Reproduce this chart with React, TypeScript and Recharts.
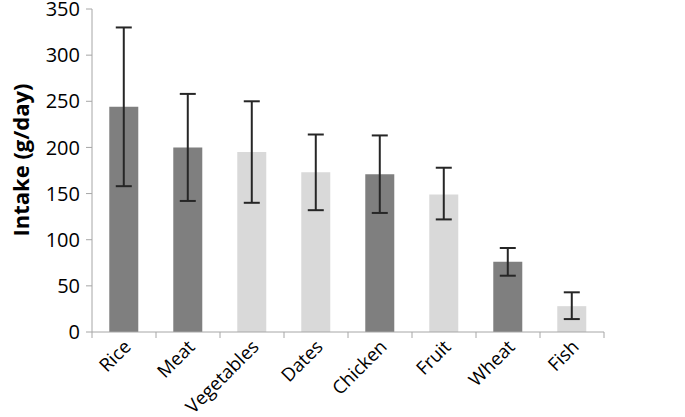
import React from 'react';
import { BarChart, Bar, XAxis, YAxis, ErrorBar, Cell } from 'recharts';

const categories = ['Rice', 'Meat', 'Vegetables', 'Dates', 'Chicken', 'Fruit', 'Wheat', 'Fish'];
const intake = [244, 200, 195, 173, 171, 149, 76, 28];
const errLow = [86, 58, 55, 41, 42, 27, 15, 14];
const errHigh = [86, 58, 55, 41, 42, 29, 15, 15];
const shades = ['dark', 'dark', 'light', 'light', 'dark', 'light', 'dark', 'light'];
const yTicks = [0, 50, 100, 150, 200, 250, 300, 350];

const colorFor: Record<string, string> = { dark: '#7f7f7f', light: '#d9d9d9' };

const data = categories.map((c, i) => ({
  name: c,
  value: intake[i],
  err: [errLow[i], errHigh[i]],
  shade: shades[i],
}));

const FONT = '"Open Sans", sans-serif';
const AXIS = '#a6a6a6';

const XTick = (props: any) => {
  const { x, y, payload, index } = props;
  const half = 32;
  return (
    <g>
      <line x1={x - half} y1={y - 8} x2={x - half} y2={y - 2} stroke={AXIS} strokeWidth={1} />
      {index === categories.length - 1 && (
        <line x1={x + half} y1={y - 8} x2={x + half} y2={y - 2} stroke={AXIS} strokeWidth={1} />
      )}
      <text
        x={x + 8}
        y={y + 8}
        textAnchor="end"
        fontFamily={FONT}
        fontSize={18.5}
        fill="#000"
        transform={`rotate(-45 ${x + 8} ${y + 8})`}
      >
        {payload.value}
      </text>
    </g>
  );
};

export default function App() {
  return (
    <div style={{ position: 'absolute', left: 0, top: 0, background: '#fff' }}>
      <BarChart
        width={685}
        height={417}
        data={data}
        margin={{ top: 9, right: 81, left: 0, bottom: 0 }}
        barCategoryGap="27%"
      >
        <XAxis
          dataKey="name"
          height={85}
          interval={0}
          tickLine={false}
          axisLine={{ stroke: AXIS, strokeWidth: 1 }}
          tick={<XTick />}
        />
        <YAxis
          width={92}
          domain={[0, 350]}
          ticks={yTicks}
          interval={0}
          tickSize={6}
          tickMargin={6}
          axisLine={{ stroke: AXIS, strokeWidth: 1 }}
          tickLine={{ stroke: AXIS }}
          tick={{ fontFamily: FONT, fontSize: 20, fill: '#000' }}
          label={{
            content: () => {
              const cx = 20;
              const cy = 160;
              return (
                <text
                  x={cx}
                  y={cy}
                  transform={`rotate(-90 ${cx} ${cy})`}
                  textAnchor="middle"
                  dominantBaseline="central"
                  fontFamily={FONT}
                  fontWeight="bold"
                  fontSize={22}
                  fill="#000"
                >
                  Intake (g/day)
                </text>
              );
            },
          }}
        />
        <Bar dataKey="value" isAnimationActive={false}>
          {data.map((d, i) => (
            <Cell key={i} fill={colorFor[d.shade]} />
          ))}
          <ErrorBar dataKey="err" width={8} stroke="#262626" strokeWidth={2} isAnimationActive={false} />
        </Bar>
      </BarChart>
    </div>
  );
}
